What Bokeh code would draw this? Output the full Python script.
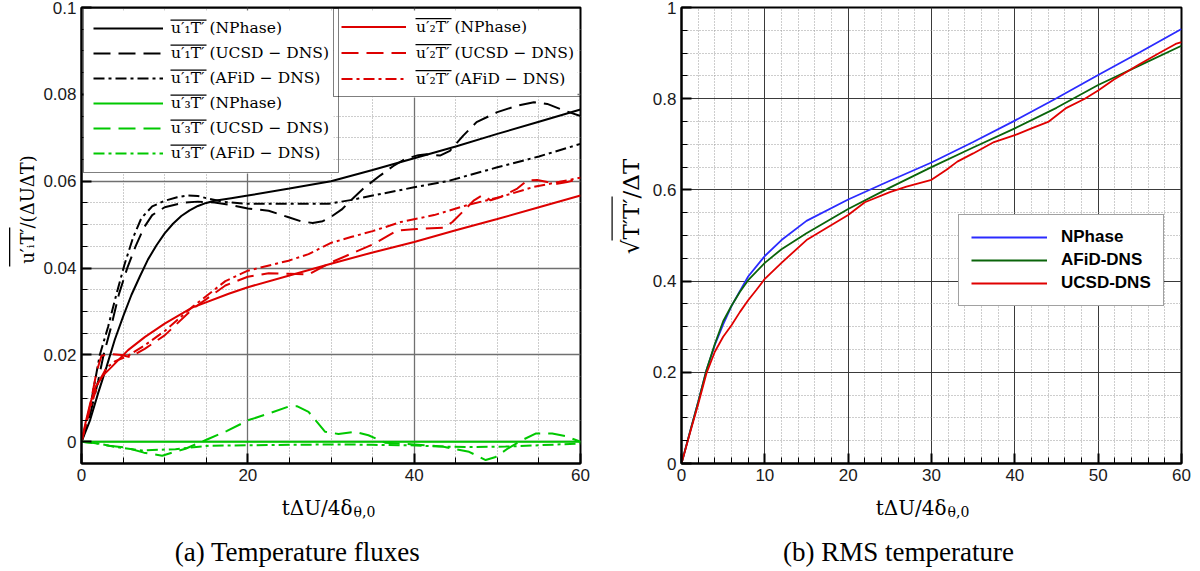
from math import pi
from bokeh.plotting import figure
from bokeh.layouts import row, column
from bokeh.models import (FixedTicker, CustomJSTickFormatter, Label, Legend,
                          LegendItem, BoxAnnotation, Range1d)
from bokeh.embed import file_html
from bokeh.resources import INLINE

# ---------------- panel (a): temperature fluxes ----------------
x_u1_np = [0, 1, 2, 3, 4, 5, 6, 7, 8, 9, 10, 11, 12, 13, 14, 15, 16, 18, 20, 25, 30, 35, 40, 45, 50, 55, 60]
u1_np = [0, 0.0048, 0.0112, 0.0172, 0.0235, 0.0288, 0.0338, 0.0380, 0.0420, 0.0452, 0.0480, 0.0502, 0.0520,
         0.0533, 0.0543, 0.0550, 0.0555, 0.0561, 0.0567, 0.0583, 0.0600, 0.0626, 0.0653, 0.0680, 0.0709, 0.0737, 0.0765]

x_u1_ucsd = [0, 1, 2, 2.65, 3.5, 4.5, 5.5, 6.5, 7.5, 8.5, 10, 12.4, 14, 16, 18, 20, 22.5, 24.9, 26.5, 27.8, 29,
             30, 31.3, 32.5, 34, 35.9, 37.5, 38.9, 40.5, 41.5, 43.1, 44.3, 45.9, 47.5, 50, 52.4, 54.4, 56, 58, 60]
u1_ucsd = [0, 0.006, 0.014, 0.020, 0.026, 0.034, 0.040, 0.045, 0.0493, 0.0522, 0.0540, 0.0551, 0.0553, 0.0551,
           0.0545, 0.0537, 0.0532, 0.0517, 0.0507, 0.0504, 0.0508, 0.0518, 0.0535, 0.0558, 0.0585, 0.0613, 0.0635,
           0.0651, 0.0660, 0.0662, 0.0659, 0.0670, 0.0705, 0.0736, 0.0759, 0.0774, 0.0782, 0.0778, 0.0763, 0.0750]

x_u1_afid = [0, 1, 2.2, 3.2, 4.2, 5.2, 6.2, 7.2, 8.5, 10, 11.5, 12.8, 14, 15.2, 17.2, 20, 25, 29.7, 32.5, 35,
             40, 44, 50, 55, 60]
u1_afid = [0, 0.0075, 0.020, 0.0265, 0.034, 0.041, 0.047, 0.0515, 0.0542, 0.0555, 0.0563, 0.0567, 0.0566, 0.0560,
           0.0552, 0.0548, 0.0548, 0.0548, 0.0557, 0.0567, 0.0586, 0.0600, 0.0632, 0.0657, 0.0686]

x_u2_np = [0, 0.5, 1, 1.7, 2.6, 3.6, 5.6, 7.6, 10, 13.3, 17.7, 20, 25, 30, 35, 40, 45, 50, 55, 60]
u2_np = [0, 0.0045, 0.0085, 0.0127, 0.0153, 0.0172, 0.0211, 0.0241, 0.0272, 0.0309, 0.0341, 0.0356, 0.0383,
         0.0410, 0.0436, 0.0460, 0.0487, 0.0513, 0.0540, 0.0567]

x_u2_ucsd = [0, 1, 1.8, 2.4, 3.5, 4.8, 5.8, 7.6, 10, 13.3, 17.3, 20, 22.5, 25, 27.3, 30, 32.3, 35.1, 37.9, 40.3,
             43.6, 44.6, 46, 47.2, 48.2, 49.2, 50.3, 52.4, 53.6, 54.8, 56, 57.2, 58.4, 60]
u2_ucsd = [0, 0.008, 0.016, 0.0198, 0.0202, 0.0200, 0.0195, 0.0214, 0.0245, 0.0305, 0.0360, 0.0380, 0.0388,
           0.0387, 0.0385, 0.0413, 0.0432, 0.0455, 0.0486, 0.0490, 0.0493, 0.0506, 0.0533, 0.0556, 0.0568, 0.0556,
           0.0563, 0.0583, 0.0602, 0.0603, 0.0598, 0.0594, 0.0598, 0.0606]

x_u2_afid = [0, 1, 2, 3, 4, 5.5, 7.6, 10, 13.3, 17.3, 20, 24.9, 27.3, 30, 32.5, 35, 38.4, 42.4, 46.4, 50.4, 54.4, 60]
u2_afid = [0, 0.0075, 0.0135, 0.0170, 0.0185, 0.0197, 0.0222, 0.0255, 0.0310, 0.0370, 0.0394, 0.0417, 0.0432,
           0.0458, 0.0472, 0.0485, 0.0506, 0.0522, 0.0545, 0.0564, 0.0587, 0.0608]

x_u3_np = [0, 10, 20, 30, 40, 50, 60]
u3_np = [0, 0, 0, 0, 0, 0, 0]

x_u3_ucsd = [0, 1.5, 3.3, 5.3, 7.5, 9.7, 12.5, 15.3, 17.5, 20.1, 22.5, 24.9, 25.9, 27.3, 29.3, 30.9, 32.9, 34.5,
             36.5, 40, 43.4, 46.6, 48.6, 49.8, 51.3, 53, 54.6, 56.6, 58.2, 60]
u3_ucsd = [0, -0.0003, -0.0009, -0.0013, -0.0025, -0.0032, -0.0016, 0.0007, 0.0025, 0.0050, 0.0065, 0.0081,
           0.0082, 0.0069, 0.0023, 0.0018, 0.0023, 0.0015, -0.0002, -0.0006, -0.0011, -0.0023, -0.0042, -0.0035,
           -0.0015, 0.0004, 0.0019, 0.0019, 0.0013, 0.0]

x_u3_afid = [0, 2, 4.1, 7.3, 11.3, 15.3, 20, 25, 31.3, 35, 39.3, 43, 47, 51, 55, 60]
u3_afid = [0, -0.0004, -0.0012, -0.0020, -0.0017, -0.0009, -0.0008, -0.0007, -0.0006, -0.0007, -0.0008, -0.0011,
           -0.0012, -0.0011, -0.0008, -0.0004]

# ---------------- panel (b): RMS temperature ----------------
x_rms = [0, 1, 2, 3, 4, 5, 6, 7, 8, 10, 12, 15, 20, 25, 30, 35, 40, 45, 50, 55, 60]
rms_nphase = [0, 0.068, 0.135, 0.205, 0.26, 0.305, 0.345, 0.378, 0.41, 0.455, 0.49, 0.532, 0.579, 0.62, 0.66,
              0.705, 0.752, 0.801, 0.852, 0.902, 0.953]
rms_afid = [0, 0.068, 0.135, 0.205, 0.262, 0.312, 0.346, 0.376, 0.402, 0.44, 0.47, 0.505, 0.558, 0.605, 0.65,
            0.693, 0.735, 0.78, 0.83, 0.873, 0.916]
x_rms_ucsd = [0, 1, 2, 3, 4, 5, 6, 7, 8, 9, 10, 12, 15, 20, 22, 25, 27, 30, 31.8, 33.1, 35, 37.5, 40, 42, 44,
              46.2, 48.4, 50, 51.9, 54.9, 57.5, 59.3, 60]
rms_ucsd = [0, 0.066, 0.13, 0.198, 0.245, 0.278, 0.303, 0.332, 0.358, 0.381, 0.405, 0.44, 0.49, 0.545, 0.573,
            0.595, 0.607, 0.622, 0.644, 0.662, 0.68, 0.705, 0.72, 0.735, 0.749, 0.78, 0.80, 0.818, 0.842, 0.875,
            0.902, 0.92, 0.924]

# ---------------- ticks ----------------
a_xticks = [0, 20, 40, 60]
a_xminor = [5, 10, 15, 25, 30, 35, 45, 50, 55]
a_yticks = [0, 0.02, 0.04, 0.06, 0.08, 0.1]
a_yminor = [0.005, 0.01, 0.015, 0.025, 0.03, 0.035, 0.045, 0.05, 0.055, 0.065, 0.07, 0.075, 0.085, 0.09, 0.095]
b_xticks = [0, 10, 20, 30, 40, 50, 60]
b_xminor = [v for v in range(2, 60, 2) if v % 10 != 0]
b_yticks = [0, 0.2, 0.4, 0.6, 0.8, 1]
b_yminor = [0.05, 0.1, 0.15, 0.25, 0.3, 0.35, 0.45, 0.5, 0.55, 0.65, 0.7, 0.75, 0.85, 0.9, 0.95]

SERIF = "DejaVu Serif"
SANS = "Liberation Sans"
TIMES = "Liberation Serif"
TOP_H = 488      # height of the row holding the two charts
BOT_H = 571 - TOP_H


def make_fig(w, yr, left, right):
    p = figure(width=w, height=TOP_H, x_range=Range1d(0, 60), y_range=Range1d(*yr),
               output_backend="svg", toolbar_location=None,
               min_border_left=left, min_border_right=right, min_border_top=7,
               min_border_bottom=TOP_H - 463)
    p.background_fill_color = "white"
    p.border_fill_color = "white"
    p.outline_line_color = "black"
    p.outline_line_width = 2
    return p


def text_fig(w, h):
    p = figure(width=w, height=h, x_range=Range1d(0, w), y_range=Range1d(0, h),
               output_backend="svg", toolbar_location=None,
               x_axis_location=None, y_axis_location=None,
               min_border_left=0, min_border_right=0, min_border_top=0, min_border_bottom=0)
    p.grid.visible = False
    p.outline_line_color = None
    p.background_fill_color = "white"
    p.border_fill_color = "white"
    return p


def style_axes(p, xt, xm, yt, ym, major_color, major_width):
    xtk = FixedTicker(ticks=xt, minor_ticks=xm)
    ytk = FixedTicker(ticks=yt, minor_ticks=ym)
    p.xaxis[0].ticker = xtk
    p.yaxis[0].ticker = ytk
    p.xgrid[0].ticker = xtk
    p.ygrid[0].ticker = ytk
    for ax in (p.xaxis[0], p.yaxis[0]):
        ax.formatter = CustomJSTickFormatter(code="return String(Math.round(tick*1000)/1000);")
        ax.axis_line_color = "black"
        ax.axis_line_width = 2
        ax.major_tick_in = 10
        ax.major_tick_out = 0
        ax.minor_tick_in = 6
        ax.minor_tick_out = 0
        ax.major_tick_line_width = 2
        ax.major_tick_line_color = "black"
        ax.minor_tick_line_width = 1
        ax.minor_tick_line_color = "black"
        ax.major_label_text_font = SANS
        ax.major_label_text_font_size = "17px"
        ax.major_label_text_color = "#1a1a1a"
        ax.major_label_standoff = 5
    for g in (p.xgrid[0], p.ygrid[0]):
        g.grid_line_color = major_color
        g.grid_line_width = major_width
        g.minor_grid_line_color = "#9a9a9a"
        g.minor_grid_line_dash = "1 2"
        g.minor_grid_line_width = 1


def label(p, text, x, y, size, font, align="left", angle=0.0, style="normal"):
    p.add_layout(Label(x=x, y=y, x_units="screen", y_units="screen", text=text, text_font=font,
                       text_font_size=f"{size}px", text_align=align, text_baseline="alphabetic",
                       angle=angle, text_color="black", text_font_style=style))


def bar(p, left, right, bottom, top):
    p.add_layout(BoxAnnotation(left=left, right=right, bottom=bottom, top=top,
                               left_units="screen", right_units="screen",
                               bottom_units="screen", top_units="screen",
                               fill_color="black", fill_alpha=1.0, line_color=None,
                               level="overlay"))


# pixel -> data helpers for decorations placed on top of the legends of panel (a)
def ax_(cx):
    return (cx - 81) * 60.0 / 499.0


def ay_(cy):
    return -0.005 + (463 - cy) * 0.105 / 456.0


def data_box(p, x0, x1, y0, y1, color, level):
    p.add_layout(BoxAnnotation(left=ax_(x0), right=ax_(x1), top=ay_(y0), bottom=ay_(y1),
                               fill_color=color, fill_alpha=1.0, line_color=None, level=level))


DASH = "17 8"
DASHDOT = "11 4 3 4"
BLACK, RED, GREEN = "black", "#dd0000", "#00c800"

# ================= panel (a) =================
YA_W = 38                       # strip holding the rotated y title of (a)
pa = make_fig(600 - YA_W, (-0.005, 0.1), 81 - YA_W, 20)
style_axes(pa, a_xticks, a_xminor, a_yticks, a_yminor, "#707070", 1.3)

r = {}
r["u1n"] = pa.line(x_u1_np, u1_np, line_color=BLACK, line_width=2)
r["u1u"] = pa.line(x_u1_ucsd, u1_ucsd, line_color=BLACK, line_width=2, line_dash=DASH)
r["u1a"] = pa.line(x_u1_afid, u1_afid, line_color=BLACK, line_width=2, line_dash=DASHDOT)
r["u2n"] = pa.line(x_u2_np, u2_np, line_color=RED, line_width=2)
r["u2u"] = pa.line(x_u2_ucsd, u2_ucsd, line_color=RED, line_width=2, line_dash=DASH)
r["u2a"] = pa.line(x_u2_afid, u2_afid, line_color=RED, line_width=2, line_dash=DASHDOT)
r["u3n"] = pa.line(x_u3_np, u3_np, line_color=GREEN, line_width=2)
r["u3u"] = pa.line(x_u3_ucsd, u3_ucsd, line_color=GREEN, line_width=2, line_dash=DASH)
r["u3a"] = pa.line(x_u3_afid, u3_afid, line_color=GREEN, line_width=2, line_dash=DASHDOT)

# white backing of the two legend boxes (legends themselves are transparent)
data_box(pa, 83, 333, 10, 173, "white", "annotation")
data_box(pa, 333, 577, 10, 97, "white", "annotation")

tags = ["(NPhase)", "(UCSD − DNS)", "(AFiD − DNS)"]
leg1 = Legend(items=[LegendItem(label=f"u′₁T′ {tags[0]}", renderers=[r["u1n"]]),
                     LegendItem(label=f"u′₁T′ {tags[1]}", renderers=[r["u1u"]]),
                     LegendItem(label=f"u′₁T′ {tags[2]}", renderers=[r["u1a"]]),
                     LegendItem(label=f"u′₃T′ {tags[0]}", renderers=[r["u3n"]]),
                     LegendItem(label=f"u′₃T′ {tags[1]}", renderers=[r["u3u"]]),
                     LegendItem(label=f"u′₃T′ {tags[2]}", renderers=[r["u3a"]])],
              location=(2, 290))
leg2 = Legend(items=[LegendItem(label=f"u′₂T′ {tags[0]}", renderers=[r["u2n"]]),
                     LegendItem(label=f"u′₂T′ {tags[1]}", renderers=[r["u2u"]]),
                     LegendItem(label=f"u′₂T′ {tags[2]}", renderers=[r["u2a"]])],
              location=(252, 366))
for lg, pad, gw, stand, lh in ((leg1, 9, 70, 8, 20), (leg2, 7, 65, 10, 21)):
    lg.label_text_font = SERIF
    lg.label_text_font_size = "15.5px"
    lg.label_text_color = "black"
    lg.glyph_width = gw
    lg.glyph_height = lh
    lg.label_height = lh
    lg.label_standoff = stand
    lg.spacing = 5
    lg.padding = pad
    lg.margin = 0
    lg.border_line_color = "black"
    lg.border_line_width = 1.5
    lg.background_fill_alpha = 0.0
    pa.add_layout(lg)

# overlines over the averaged products in the legends
for i in range(6):
    c = 29 + 25 * i
    data_box(pa, 170, 206, c - 10, c - 8.8, "black", "overlay")
for j in range(3):
    c = 27.5 + 26 * j
    data_box(pa, 415, 451, c - 10, c - 8.8, "black", "overlay")

# rotated y title of (a)
ya = text_fig(YA_W, TOP_H)
label(ya, "u′ᵢT′/(ΔUΔT)", 27, TOP_H - 234, 18, SERIF, align="center", angle=pi / 2)
bar(ya, 8.5, 9.8, TOP_H - 291, TOP_H - 252)

# x title + caption of (a)   (y measured up from the bottom of the window)
ca = text_fig(600, BOT_H)
label(ca, "tΔU/4δ", 352, 571 - 507, 20, SERIF, align="right")
label(ca, "θ,0", 353, 571 - 511, 14, SERIF)
label(ca, "(a) Temperature fluxes", 297, 571 - 551, 27, TIMES, align="center")

# ================= panel (b) =================
YB_W = 46
pb = make_fig(600 - YB_W, (0, 1), 81 - YB_W, 19)
style_axes(pb, b_xticks, b_xminor, b_yticks, b_yminor, "#3a3a3a", 1.0)

rb1 = pb.line(x_rms, rms_nphase, line_color="#2b2bff", line_width=1.8)
rb2 = pb.line(x_rms, rms_afid, line_color="#0a640a", line_width=1.8)
rb3 = pb.line(x_rms_ucsd, rms_ucsd, line_color="#e00000", line_width=1.8)

leg3 = Legend(items=[LegendItem(label="NPhase", renderers=[rb1]),
                     LegendItem(label="AFiD-DNS", renderers=[rb2]),
                     LegendItem(label="UCSD-DNS", renderers=[rb3])],
              location=(277, 157))
leg3.label_text_font = SANS
leg3.label_text_font_style = "bold"
leg3.label_text_font_size = "17px"
leg3.label_text_color = "black"
leg3.glyph_width = 76
leg3.glyph_height = 18
leg3.label_height = 18
leg3.label_standoff = 14
leg3.spacing = 3
leg3.padding = 12
leg3.margin = 0
leg3.border_line_color = "#444444"
leg3.border_line_width = 1.2
leg3.background_fill_color = "white"
leg3.background_fill_alpha = 1.0
pb.add_layout(leg3)

# rotated y title of (b)
yb = text_fig(YB_W, TOP_H)
label(yb, "√T′T′/ΔT", 30, TOP_H - 231, 23, SERIF, align="center", angle=pi / 2)
bar(yb, 11, 12.2, TOP_H - 265, TOP_H - 221)

# x title + caption of (b)
cb = text_fig(600, BOT_H)
label(cb, "tΔU/4δ", 346, 571 - 507, 20, SERIF, align="right")
label(cb, "θ,0", 347, 571 - 511, 14, SERIF)
label(cb, "(b) RMS temperature", 298, 571 - 551, 27, TIMES, align="center")

layout = column(row(ya, pa, yb, pb), row(ca, cb))
open("out.html", "w").write(file_html(layout, INLINE))
